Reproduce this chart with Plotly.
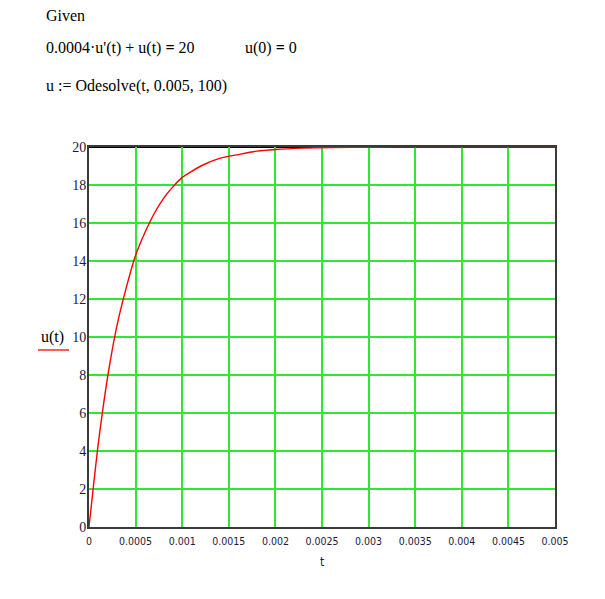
import plotly.graph_objects as go

# Values
t_values = [0, 0.0001, 0.0002, 0.0003, 0.0004, 0.0005, 0.0006, 0.0007, 0.0008,
            0.0009, 0.001, 0.0012, 0.0014, 0.0016, 0.0018, 0.002, 0.0023,
            0.0026, 0.003, 0.0035, 0.004, 0.0045, 0.005]
u_values = [0, 4.4, 7.9, 10.6, 12.6, 14.3, 15.5, 16.5, 17.3,
            17.9, 18.4, 19.0, 19.4, 19.6, 19.78, 19.87, 19.94,
            19.97, 19.99, 20.0, 20.0, 20.0, 20.0]
x_tickvals = [0, 0.0005, 0.001, 0.0015, 0.002, 0.0025, 0.003, 0.0035, 0.004, 0.0045, 0.005]
x_ticktext = ["0", "0.0005", "0.001", "0.0015", "0.002", "0.0025", "0.003", "0.0035", "0.004", "0.0045", "0.005"]
y_tickvals = [0, 2, 4, 6, 8, 10, 12, 14, 16, 18, 20]

W, H = 605, 599
L, R, T, B = 89, 555, 147, 527  # plot area in screenshot pixels


def px(x):
    return (x - L) / (R - L)


def py(y):
    return (B - y) / (B - T)


fig = go.Figure()
fig.add_trace(go.Scatter(x=t_values, y=u_values, mode="lines",
                         line=dict(color="#ff0000", width=1.4, shape="spline", smoothing=0.6),
                         hoverinfo="skip", showlegend=False))

x_font = dict(family="DejaVu Sans Condensed, Liberation Sans, sans-serif", size=10.5, color="#1a1a40")
y_font = dict(family="Liberation Serif, Times New Roman, serif", size=14, color="#1a1a40")
serif = dict(family="Liberation Serif, Times New Roman, serif", size=16, color="#000000")
grid_color = "#30e830"

fig.update_layout(
    width=W, height=H,
    margin=dict(l=L, r=W - R, t=T, b=H - B, pad=0),
    paper_bgcolor="white", plot_bgcolor="white",
    xaxis=dict(range=[0, 0.005], tickvals=x_tickvals, ticktext=x_ticktext,
               showgrid=True, gridcolor=grid_color, gridwidth=1.6,
               zeroline=False, showline=True, mirror=True, linecolor="#3a3a3a", linewidth=2,
               layer="below traces", ticks="", tickfont=x_font, ticklabelstandoff=3,
               title=dict(text="t", font=dict(family=x_font["family"], size=12, color="#1a1a40"),
                          standoff=12)),
    yaxis=dict(range=[0, 20], tickvals=y_tickvals,
               showgrid=True, gridcolor=grid_color, gridwidth=1.6,
               zeroline=False, showline=True, mirror=True, linecolor="#3a3a3a", linewidth=2,
               layer="below traces", ticks="", tickfont=y_font, ticklabelstandoff=-2),
)

# top border drawn black
fig.add_shape(type="line", x0=0, x1=1, y0=1, y1=1, xref="paper", yref="paper",
              line=dict(color="#000000", width=2), layer="below")

texts = [
    ("Given", 44, 15),
    ("0.0004·u'(t) + u(t) <b>=</b> 20", 44, 48),
    ("u(0) <b>=</b> 0", 243, 48),
    ("u := Odesolve(t, 0.005, 100)", 44, 86),
]
for txt, x, y in texts:
    fig.add_annotation(text=txt, x=px(x), y=py(y), xref="paper", yref="paper",
                       xanchor="left", yanchor="middle", showarrow=False, font=serif)

# y axis label with red underline
fig.add_annotation(text="u(t)", x=px(52), y=py(337), xref="paper", yref="paper",
                   xanchor="center", yanchor="middle", showarrow=False, font=serif)
fig.add_shape(type="line", x0=px(38), x1=px(69), y0=py(350), y1=py(350),
              xref="paper", yref="paper", line=dict(color="#ff0000", width=1.3))

fig.write_html("out.html", config={"displayModeBar": False},
               post_script="document.body.style.margin='0';")
